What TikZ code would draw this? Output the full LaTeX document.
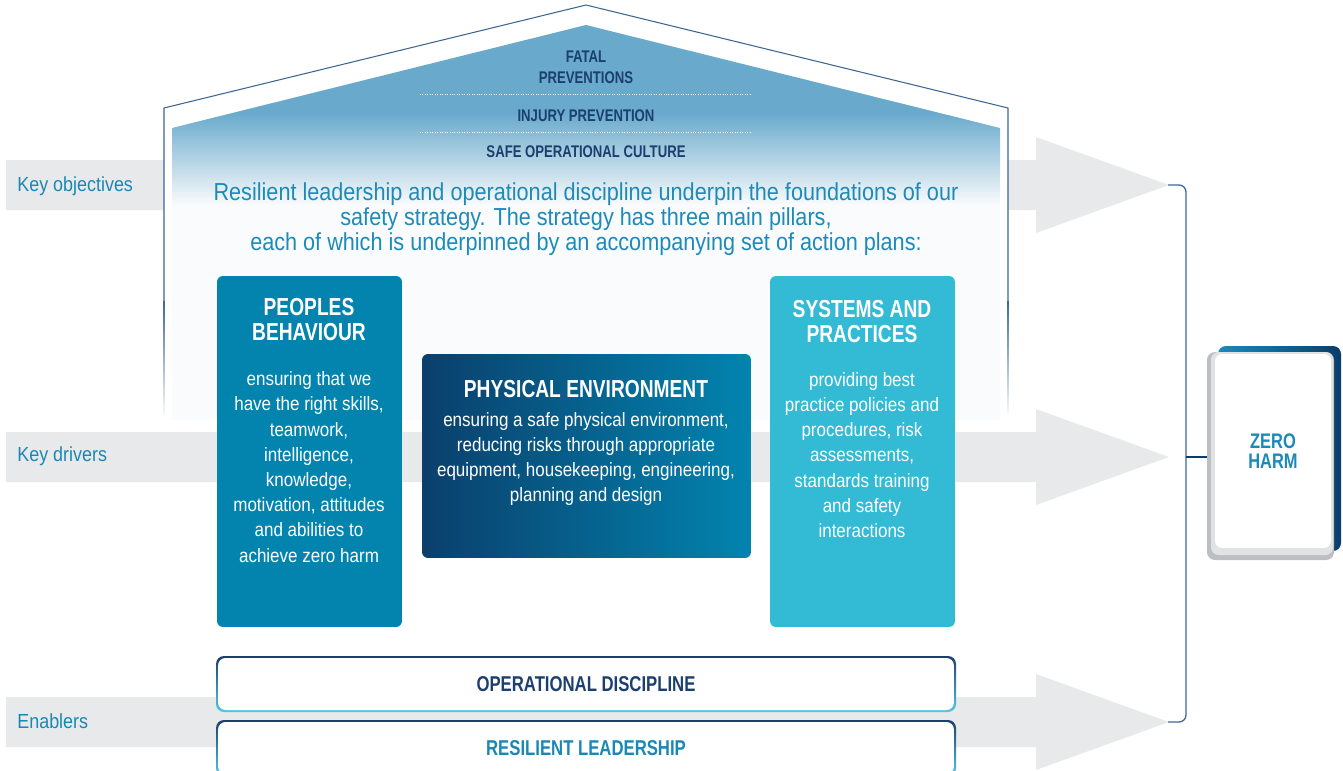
\documentclass[tikz,border=0pt]{standalone}
\usepackage{fontspec}
\setmainfont{Liberation Sans}
\newfontfamily\condlight[FakeStretch=0.88]{Liberation Sans}
\newfontfamily\condbold[FakeStretch=0.78]{Liberation Sans}
\usepackage{tikz}
\usetikzlibrary{positioning}
\usetikzlibrary{calc}
\definecolor{arrowgray}{HTML}{E8E9EB}
\definecolor{houseline}{HTML}{3D6691}
\definecolor{housewhite}{HTML}{FAFBFC}
\definecolor{roofblue}{HTML}{68A9CC}
\definecolor{navytext}{HTML}{1B3F6E}
\definecolor{introblue}{HTML}{1D8BBA}
\definecolor{peoplecol}{HTML}{0284AF}
\definecolor{physleft}{HTML}{0B3F6C}
\definecolor{physright}{HTML}{0284AF}
\definecolor{syscol}{HTML}{33BAD5}
\definecolor{lblblue}{HTML}{1A87B5}
\definecolor{barcyan}{HTML}{55C8E3}
\definecolor{brcol}{HTML}{3B6A9A}
\definecolor{zeronavy}{HTML}{0A3D6B}
\definecolor{zeroteal}{HTML}{1A8AB8}
\definecolor{zerogray}{HTML}{BCBEC2}
\tikzstyle{lbl} = [anchor=west, inner sep=0pt, text=lblblue, font=\condlight\fontsize{11.6}{14}\selectfont]
\tikzstyle{roof} = [inner sep=0pt, align=center, text=navytext, font=\condbold\bfseries\fontsize{9.6}{12}\selectfont]
\tikzstyle{intro} = [inner sep=0pt, align=center, text=introblue, font=\condlight\fontsize{14}{14.4}\selectfont]
\tikzstyle{pillar} = [rectangle, rounded corners=0.12cm, minimum width=3.7cm, minimum height=7.02cm, inner sep=0pt]
\tikzstyle{header} = [inner sep=0pt, align=center, text=white, font=\condbold\bfseries\fontsize{14}{14.2}\selectfont]
\tikzstyle{body} = [inner sep=0pt, align=center, text=white, font=\condlight\fontsize{11}{14.35}\selectfont]
\tikzstyle{bar} = [rectangle, rounded corners=0.15cm, fill=white, minimum width=14.72cm, minimum height=1.04cm, inner sep=0pt, font=\condbold\bfseries\fontsize{12.2}{14}\selectfont]
\tikzstyle{zerobox} = [rectangle, rounded corners=0.14cm, fill=white, minimum width=2.32cm, minimum height=3.88cm, inner sep=0pt, align=center, text=zeroteal, font=\condbold\bfseries\fontsize{12}{11.4}\selectfont]
\tikzstyle{brline} = [draw=brcol, line width=0.75pt]
\tikzstyle{dotsep} = [white, densely dotted, line width=0.4pt]
\begin{document}
\begin{tikzpicture}[x=0.02cm,y=-0.02cm]
    \useasboundingbox (0,0) rectangle (1343,771);
    % grey arrows
    \foreach \yy in {185,457,722}
        \fill[arrowgray] (6,{\yy-25}) -- (1036,{\yy-25}) -- (1036,{\yy-48}) -- (1169,\yy) -- (1036,{\yy+48}) -- (1036,{\yy+25}) -- (6,{\yy+25}) -- cycle;

    \node [lbl] (keyobj) at (17,186) {Key objectives};
    \node [lbl] (keydrv) at (17,456) {Key drivers};
    \node [lbl] (enabl) at (17,721) {Enablers};

    % house
    \fill[white] (164,420) -- (164,108) -- (586,5) -- (1008,108) -- (1008,420) -- cycle;
    \begin{scope}
        \clip (172,420) -- (172,128) -- (586,25) -- (1000,128) -- (1000,420) -- cycle;
        \fill[roofblue] (160,0) rectangle (1010,112);
        \shade[top color=roofblue, bottom color=housewhite] (160,112) rectangle (1010,205);
        \fill[housewhite] (160,205) rectangle (1010,420);
    \end{scope}
    \draw[houseline, line width=0.6pt] (164,300) -- (164,108) -- (586,5) -- (1008,108) -- (1008,300);
    \shade[top color=houseline, bottom color=white] (163.4,300) rectangle (164.6,418);
    \shade[top color=houseline, bottom color=white] (1007.4,300) rectangle (1008.6,418);

    \node [roof] (fatal) at (586,67.5) {FATAL\\PREVENTIONS};
    \draw[dotsep] (420,94) -- (752,94);
    \node [roof] (injury) at (586,116) {INJURY PREVENTION};
    \draw[dotsep] (420,132) -- (752,132);
    \node [roof] (culture) at (586,152) {SAFE OPERATIONAL CULTURE};

    \node [intro] (intro) at (586,219) {Resilient leadership and operational discipline underpin the foundations of our\\safety strategy. The strategy has three main pillars,\\each of which is underpinned by an accompanying set of action plans:};

    % pillars
    \node [pillar, fill=peoplecol] (people) at (309.5,451.5) {};
    \node [header] (peoplehd) at (309,320) {PEOPLES\\BEHAVIOUR};
    \node [body] (peopletx) at (309,467) {ensuring that we\\have the right skills,\\teamwork,\\intelligence,\\knowledge,\\motivation, attitudes\\and abilities to\\achieve zero harm};

    \node [pillar, left color=physleft, right color=physright, minimum width=6.58cm, minimum height=4.08cm] (physical) at (586.5,456) {};
    \node [header] (physhd) at (586,389) {PHYSICAL ENVIRONMENT};
    \node [body] (phystx) at (586,459) {ensuring a safe physical environment,\\reducing risks through appropriate\\equipment, housekeeping, engineering,\\planning and design};

    \node [pillar, fill=syscol] (systems) at (862.5,451.5) {};
    \node [header] (syshd) at (862,321.5) {SYSTEMS AND\\PRACTICES};
    \node [body] (systx) at (862,455) {providing best\\practice policies and\\procedures, risk\\assessments,\\standards training\\and safety\\interactions};

    % enabler bars
    \shade[top color=navytext, bottom color=barcyan, rounded corners=0.16cm] (216,656) rectangle (956,712);
    \node [bar, text=navytext] (opdisc) at (586,684) {OPERATIONAL DISCIPLINE};
    \shade[top color=navytext, bottom color=barcyan, rounded corners=0.16cm] (216,720) rectangle (956,776);
    \node [bar, text=lblblue] (resil) at (586,748) {RESILIENT LEADERSHIP};

    % bracket and zero harm
    \coordinate (brtop) at (1168,185);
    \coordinate (brbot) at (1168,722);
    \coordinate (brmid) at (1186,457);
    \draw[brline, rounded corners=4pt] (brtop) -| (brmid) |- (brbot);
    \draw[brline, draw=zeronavy] (brmid) -- (1215,457);
    \shade[left color=zeroteal, right color=zeronavy, rounded corners=0.16cm] (1218,346) rectangle (1341,551);
    \fill[zerogray, rounded corners=0.16cm] (1207,352) rectangle (1334,560);
    \fill[zerogray!45, rounded corners=0.15cm] (1211,352) rectangle (1333,555);
    \node [zerobox] (zero) at (1273,451) {ZERO\\HARM};
\end{tikzpicture}
\end{document}
